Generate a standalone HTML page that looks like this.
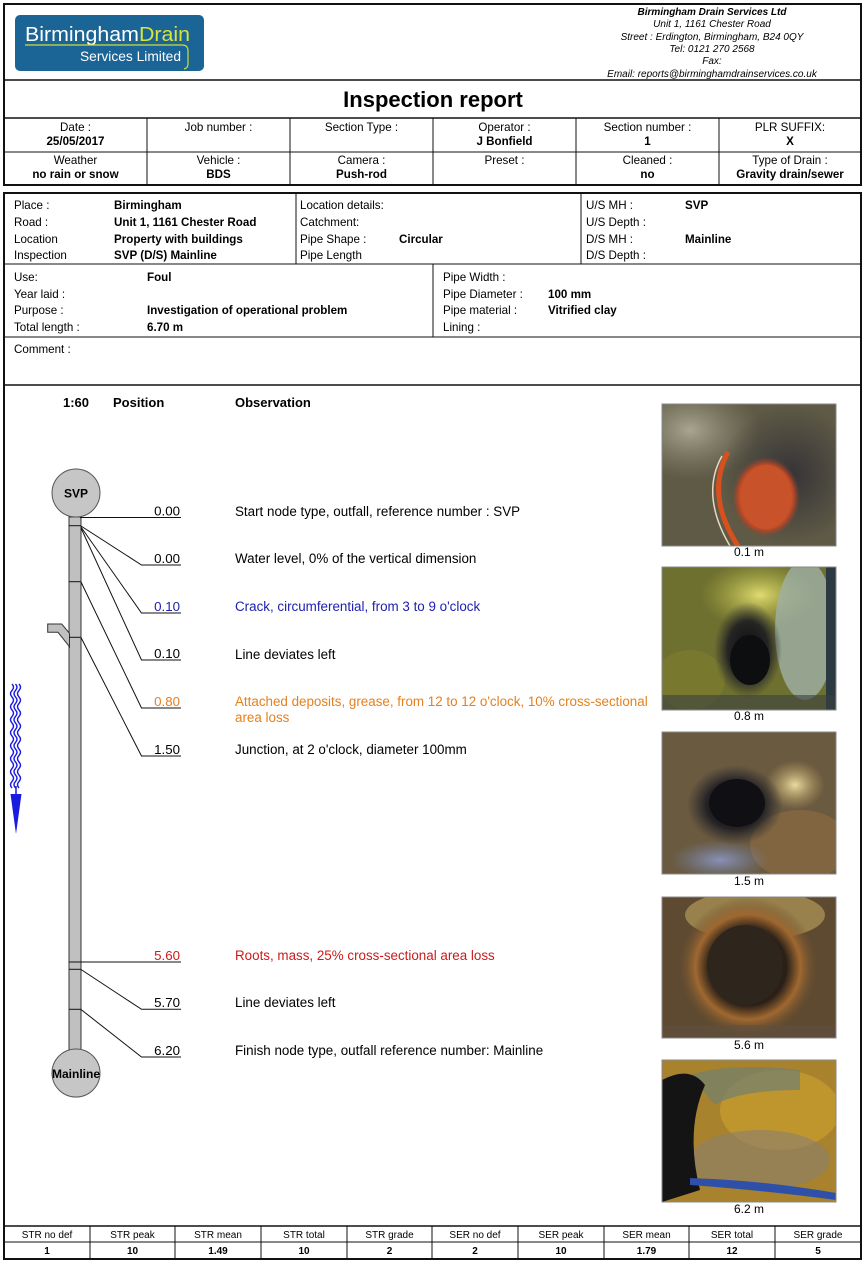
<!DOCTYPE html>
<html>
<head>
<meta charset="utf-8">
<style>
html,body{margin:0;padding:0;background:#fff;}
svg{display:block;}
text{font-family:"Liberation Sans",Arial,sans-serif;}
</style>
</head>
<body>
<svg width="865" height="1263" viewBox="0 0 865 1263" xmlns="http://www.w3.org/2000/svg">
<defs>
  <clipPath id="c1"><rect x="662" y="404" width="174" height="142"/></clipPath>
  <clipPath id="c2"><rect x="662" y="567" width="174" height="143"/></clipPath>
  <clipPath id="c3"><rect x="662" y="732" width="174" height="142"/></clipPath>
  <clipPath id="c4"><rect x="662" y="897" width="174" height="141"/></clipPath>
  <clipPath id="c5"><rect x="662" y="1060" width="174" height="142"/></clipPath>
  <radialGradient id="dark" cx="0.5" cy="0.5" r="0.5">
    <stop offset="0" stop-color="#0c0c10"/><stop offset="0.6" stop-color="#1c1c22" stop-opacity="0.9"/><stop offset="1" stop-color="#2a2a30" stop-opacity="0"/>
  </radialGradient>
  <radialGradient id="orange" cx="0.5" cy="0.5" r="0.5">
    <stop offset="0" stop-color="#d85a2a"/><stop offset="0.8" stop-color="#c04a26"/><stop offset="1" stop-color="#a0402a" stop-opacity="0"/>
  </radialGradient>
  <radialGradient id="yel" cx="0.5" cy="0.5" r="0.5">
    <stop offset="0" stop-color="#e0dc70"/><stop offset="1" stop-color="#b0b040" stop-opacity="0"/>
  </radialGradient>
  <radialGradient id="yelw" cx="0.5" cy="0.5" r="0.5">
    <stop offset="0" stop-color="#e8dca0"/><stop offset="1" stop-color="#c0a060" stop-opacity="0"/>
  </radialGradient>
  <radialGradient id="blu" cx="0.5" cy="0.5" r="0.5">
    <stop offset="0" stop-color="#8a90b8"/><stop offset="1" stop-color="#7080a0" stop-opacity="0"/>
  </radialGradient>
  <radialGradient id="light" cx="0.5" cy="0.5" r="0.5">
    <stop offset="0" stop-color="#a8a690"/><stop offset="1" stop-color="#8a8570" stop-opacity="0"/>
  </radialGradient>
  <radialGradient id="shade" cx="0.5" cy="0.5" r="0.5">
    <stop offset="0" stop-color="#2e2c34" stop-opacity="0.85"/><stop offset="1" stop-color="#2e2c34" stop-opacity="0"/>
  </radialGradient>
  <radialGradient id="rust" cx="0.5" cy="0.5" r="0.5">
    <stop offset="0.55" stop-color="#2a2018"/><stop offset="0.75" stop-color="#a06830"/><stop offset="1" stop-color="#6a5030" stop-opacity="0"/>
  </radialGradient>
</defs>

<!-- BOX 1 -->
<rect x="4" y="4" width="857" height="181" fill="none" stroke="#111" stroke-width="2"/>
<line x1="4" y1="80" x2="861" y2="80" stroke="#111" stroke-width="1.5"/>
<line x1="4" y1="118" x2="861" y2="118" stroke="#111" stroke-width="1.5"/>
<line x1="4" y1="152" x2="861" y2="152" stroke="#111" stroke-width="1"/>
<g stroke="#111" stroke-width="1">
  <line x1="147" y1="118" x2="147" y2="185"/>
  <line x1="290" y1="118" x2="290" y2="185"/>
  <line x1="433" y1="118" x2="433" y2="185"/>
  <line x1="576" y1="118" x2="576" y2="185"/>
  <line x1="719" y1="118" x2="719" y2="185"/>
</g>

<!-- Logo -->
<rect x="15" y="15" width="189" height="56" rx="5" ry="5" fill="#1b6496"/>
<text x="25" y="41" font-size="20" fill="#fff" textLength="165" lengthAdjust="spacingAndGlyphs">Birmingham<tspan fill="#d9e33a">Drain</tspan></text>
<path d="M25,45 L182,45 Q188,45 188,51 L188,64 Q188,68 184,69" fill="none" stroke="#cfdc38" stroke-width="1.2"/>
<text x="80" y="61" font-size="13.5" fill="#fff" textLength="101" lengthAdjust="spacingAndGlyphs">Services Limited</text>

<!-- Company info -->
<g font-size="10" font-style="italic" text-anchor="middle" fill="#000">
  <text x="712" y="15" font-weight="bold">Birmingham Drain Services Ltd</text>
  <text x="712" y="27">Unit 1, 1161 Chester Road</text>
  <text x="712" y="40">Street : Erdington, Birmingham, B24 0QY</text>
  <text x="712" y="52">Tel: 0121 270 2568</text>
  <text x="712" y="64">Fax:</text>
  <text x="712" y="77">Email: reports@birminghamdrainservices.co.uk</text>
</g>

<text x="433" y="107" font-size="22" font-weight="bold" text-anchor="middle">Inspection report</text>

<g font-size="11.6" text-anchor="middle">
  <text x="75.5" y="131">Date :</text>
  <text x="75.5" y="145" font-weight="bold">25/05/2017</text>
  <text x="218.5" y="131">Job number :</text>
  <text x="361.5" y="131">Section Type :</text>
  <text x="504.5" y="131">Operator :</text>
  <text x="504.5" y="145" font-weight="bold">J Bonfield</text>
  <text x="647.5" y="131">Section number :</text>
  <text x="647.5" y="145" font-weight="bold">1</text>
  <text x="790" y="131">PLR SUFFIX:</text>
  <text x="790" y="145" font-weight="bold">X</text>

  <text x="75.5" y="164">Weather</text>
  <text x="75.5" y="178" font-weight="bold">no rain or snow</text>
  <text x="218.5" y="164">Vehicle :</text>
  <text x="218.5" y="178" font-weight="bold">BDS</text>
  <text x="361.5" y="164">Camera :</text>
  <text x="361.5" y="178" font-weight="bold">Push-rod</text>
  <text x="504.5" y="164">Preset :</text>
  <text x="647.5" y="164">Cleaned :</text>
  <text x="647.5" y="178" font-weight="bold">no</text>
  <text x="790" y="164">Type of Drain :</text>
  <text x="790" y="178" font-weight="bold">Gravity drain/sewer</text>
</g>

<!-- BOX 2 -->
<rect x="4" y="193" width="857" height="1066" fill="none" stroke="#111" stroke-width="2"/>
<g stroke="#111" stroke-width="1">
  <line x1="296" y1="193" x2="296" y2="264"/>
  <line x1="581" y1="193" x2="581" y2="264"/>
  <line x1="4" y1="264" x2="861" y2="264"/>
  <line x1="433" y1="264" x2="433" y2="337"/>
  <line x1="4" y1="337" x2="861" y2="337"/>
  <line x1="4" y1="385" x2="861" y2="385" stroke-width="1.5"/>
  <line x1="4" y1="1226" x2="861" y2="1226" stroke-width="1.5"/>
  <line x1="4" y1="1242" x2="861" y2="1242"/>
  <line x1="90" y1="1226" x2="90" y2="1259"/>
  <line x1="175" y1="1226" x2="175" y2="1259"/>
  <line x1="261" y1="1226" x2="261" y2="1259"/>
  <line x1="347" y1="1226" x2="347" y2="1259"/>
  <line x1="432" y1="1226" x2="432" y2="1259"/>
  <line x1="518" y1="1226" x2="518" y2="1259"/>
  <line x1="604" y1="1226" x2="604" y2="1259"/>
  <line x1="689" y1="1226" x2="689" y2="1259"/>
  <line x1="775" y1="1226" x2="775" y2="1259"/>
</g>

<g font-size="11.6">
  <text x="14" y="209">Place :</text>
  <text x="14" y="226">Road :</text>
  <text x="14" y="243">Location</text>
  <text x="14" y="259">Inspection</text>
  <text x="114" y="209" font-weight="bold">Birmingham</text>
  <text x="114" y="226" font-weight="bold">Unit 1, 1161 Chester Road</text>
  <text x="114" y="243" font-weight="bold">Property with buildings</text>
  <text x="114" y="259" font-weight="bold">SVP (D/S) Mainline</text>
  <text x="300" y="209">Location details:</text>
  <text x="300" y="226">Catchment:</text>
  <text x="300" y="243">Pipe Shape :</text>
  <text x="399" y="243" font-weight="bold">Circular</text>
  <text x="300" y="259">Pipe Length</text>
  <text x="586" y="209">U/S MH :</text>
  <text x="685" y="209" font-weight="bold">SVP</text>
  <text x="586" y="226">U/S Depth :</text>
  <text x="586" y="243">D/S MH :</text>
  <text x="685" y="243" font-weight="bold">Mainline</text>
  <text x="586" y="259">D/S Depth :</text>

  <text x="14" y="281">Use:</text>
  <text x="147" y="281" font-weight="bold">Foul</text>
  <text x="14" y="298">Year laid :</text>
  <text x="14" y="314">Purpose :</text>
  <text x="147" y="314" font-weight="bold">Investigation of operational problem</text>
  <text x="14" y="331">Total length :</text>
  <text x="147" y="331" font-weight="bold">6.70 m</text>
  <text x="443" y="281">Pipe Width :</text>
  <text x="443" y="298">Pipe Diameter :</text>
  <text x="548" y="298" font-weight="bold">100 mm</text>
  <text x="443" y="314">Pipe material :</text>
  <text x="548" y="314" font-weight="bold">Vitrified clay</text>
  <text x="443" y="331">Lining :</text>

  <text x="14" y="353">Comment :</text>
</g>

<!-- Observation header -->
<g font-size="13" font-weight="bold">
  <text x="63" y="407">1:60</text>
  <text x="113" y="407">Position</text>
  <text x="235" y="407">Observation</text>
</g>

<!-- Pipe diagram -->
<rect x="69" y="517" width="12" height="533" fill="#c0c0c0" stroke="#333" stroke-width="1"/>
<polygon points="47.7,624 61.7,624 69.5,633.3 69.5,646.7 58,632.3 47.7,632.3" fill="#c0c0c0" stroke="#333" stroke-width="1"/>
<circle cx="76" cy="493" r="24" fill="#c6c6c6" stroke="#555" stroke-width="1"/>
<text x="76" y="497.5" font-size="12" font-weight="bold" text-anchor="middle">SVP</text>
<circle cx="76" cy="1073" r="24" fill="#c6c6c6" stroke="#555" stroke-width="1"/>
<text x="76" y="1078" font-size="12" font-weight="bold" text-anchor="middle">Mainline</text>

<g stroke="#111" stroke-width="1" fill="none">
  <line x1="69" y1="525.7" x2="81" y2="525.7"/>
  <line x1="69" y1="581.7" x2="81" y2="581.7"/>
  <line x1="69" y1="637.3" x2="81" y2="637.3"/>
  <line x1="69" y1="969.3" x2="81" y2="969.3"/>
  <line x1="69" y1="1009.3" x2="81" y2="1009.3"/>
  <polyline points="80,517.5 181,517.5"/>
  <polyline points="81,526 141.5,565 181,565"/>
  <polyline points="81,527 141.5,613 181,613"/>
  <polyline points="81,528 141.5,660 181,660"/>
  <polyline points="81,582 141.5,708 181,708"/>
  <polyline points="81,637.5 141.5,756 181,756"/>
  <polyline points="69,962 181,962"/>
  <polyline points="81,969.5 141.5,1009.3 181,1009.3"/>
  <polyline points="81,1009.5 141.5,1057 181,1057"/>
</g>

<!-- Flow arrow -->
<g stroke="#1a1ae0" stroke-width="1.4" fill="none">
  <path d="M12,684 q3,3.25 0,6.5 q-3,3.25 0,6.5 q3,3.25 0,6.5 q-3,3.25 0,6.5 q3,3.25 0,6.5 q-3,3.25 0,6.5 q3,3.25 0,6.5 q-3,3.25 0,6.5 q3,3.25 0,6.5 q-3,3.25 0,6.5 q3,3.25 0,6.5 q-3,3.25 0,6.5 q3,3.25 0,6.5 q-3,3.25 0,6.5 q3,3.25 0,6.5 q-3,3.25 0,6.5"/>
  <path d="M15.5,684 q3,3.25 0,6.5 q-3,3.25 0,6.5 q3,3.25 0,6.5 q-3,3.25 0,6.5 q3,3.25 0,6.5 q-3,3.25 0,6.5 q3,3.25 0,6.5 q-3,3.25 0,6.5 q3,3.25 0,6.5 q-3,3.25 0,6.5 q3,3.25 0,6.5 q-3,3.25 0,6.5 q3,3.25 0,6.5 q-3,3.25 0,6.5 q3,3.25 0,6.5 q-3,3.25 0,6.5"/>
  <path d="M19,684 q3,3.25 0,6.5 q-3,3.25 0,6.5 q3,3.25 0,6.5 q-3,3.25 0,6.5 q3,3.25 0,6.5 q-3,3.25 0,6.5 q3,3.25 0,6.5 q-3,3.25 0,6.5 q3,3.25 0,6.5 q-3,3.25 0,6.5 q3,3.25 0,6.5 q-3,3.25 0,6.5 q3,3.25 0,6.5 q-3,3.25 0,6.5 q3,3.25 0,6.5 q-3,3.25 0,6.5"/>
  <line x1="16" y1="786" x2="16" y2="796" stroke-width="1.5"/>
</g>
<polygon points="10.5,794 21.5,794 16,834" fill="#1a1ae0"/>

<!-- Position labels -->
<g font-size="13.3" text-anchor="end">
  <text x="180" y="515.5">0.00</text>
  <text x="180" y="563">0.00</text>
  <text x="180" y="611" fill="#2020b0">0.10</text>
  <text x="180" y="658">0.10</text>
  <text x="180" y="706" fill="#e4801e">0.80</text>
  <text x="180" y="754">1.50</text>
  <text x="180" y="960" fill="#cc1a1a">5.60</text>
  <text x="180" y="1007">5.70</text>
  <text x="180" y="1055">6.20</text>
</g>

<!-- Observations -->
<g font-size="13.4">
  <text x="235" y="516">Start node type, outfall, reference number : SVP</text>
  <text x="235" y="563">Water level, 0% of the vertical dimension</text>
  <text x="235" y="611" fill="#2020b0">Crack, circumferential, from 3 to 9 o'clock</text>
  <text x="235" y="659">Line deviates left</text>
  <text x="235" y="706" fill="#e4801e">Attached deposits, grease, from 12 to 12 o'clock, 10% cross-sectional</text>
  <text x="235" y="722" fill="#e4801e">area loss</text>
  <text x="235" y="754">Junction, at 2 o'clock, diameter 100mm</text>
  <text x="235" y="960" fill="#cc1a1a">Roots, mass, 25% cross-sectional area loss</text>
  <text x="235" y="1007">Line deviates left</text>
  <text x="235" y="1055">Finish node type, outfall reference number: Mainline</text>
</g>

<!-- Photo 1 -->
<g clip-path="url(#c1)">
  <rect x="662" y="404" width="174" height="142" fill="#5e5a46"/>
  <ellipse cx="690" cy="430" rx="70" ry="50" fill="url(#light)"/>
  <ellipse cx="790" cy="475" rx="70" ry="70" fill="url(#shade)"/>
  <path d="M728,452 Q705,495 738,546" fill="none" stroke="#d8501e" stroke-width="5"/>
  <path d="M722,456 Q700,495 730,546" fill="none" stroke="#e8d8c0" stroke-width="1.5"/>
  <ellipse cx="766" cy="497" rx="34" ry="40" fill="url(#orange)"/>
  <ellipse cx="766" cy="497" rx="26" ry="32" fill="#c8522a"/>
</g>
<rect x="662" y="404" width="174" height="142" fill="none" stroke="#888" stroke-width="1"/>

<!-- Photo 2 -->
<g clip-path="url(#c2)">
  <rect x="662" y="567" width="174" height="143" fill="#6e7030"/>
  <ellipse cx="760" cy="595" rx="60" ry="35" fill="url(#yel)"/>
  <ellipse cx="805" cy="630" rx="30" ry="70" fill="#9fb0a8" opacity="0.8"/>
  <rect x="826" y="567" width="10" height="143" fill="#2a3a40"/>
  <ellipse cx="690" cy="680" rx="35" ry="30" fill="#7a7a30" opacity="0.8"/>
  <ellipse cx="748" cy="650" rx="34" ry="48" fill="url(#dark)"/>
  <ellipse cx="750" cy="660" rx="20" ry="25" fill="#0c0e10"/>
  <rect x="662" y="695" width="174" height="15" fill="#3a4040" opacity="0.6"/>
</g>
<rect x="662" y="567" width="174" height="143" fill="none" stroke="#888" stroke-width="1"/>

<!-- Photo 3 -->
<g clip-path="url(#c3)">
  <rect x="662" y="732" width="174" height="142" fill="#6a5a40"/>
  <ellipse cx="800" cy="845" rx="50" ry="35" fill="#8a6a40" opacity="0.7"/>
  <ellipse cx="720" cy="860" rx="50" ry="20" fill="url(#blu)"/>
  <ellipse cx="795" cy="785" rx="30" ry="25" fill="url(#yelw)"/>
  <ellipse cx="735" cy="805" rx="48" ry="40" fill="url(#dark)"/>
  <ellipse cx="737" cy="803" rx="28" ry="24" fill="#101014"/>
</g>
<rect x="662" y="732" width="174" height="142" fill="none" stroke="#888" stroke-width="1"/>

<!-- Photo 4 -->
<g clip-path="url(#c4)">
  <rect x="662" y="897" width="174" height="141" fill="#5e4a30"/>
  <ellipse cx="755" cy="915" rx="70" ry="25" fill="#b09858" opacity="0.7"/>
  <ellipse cx="748" cy="967" rx="70" ry="70" fill="url(#rust)"/>
  <ellipse cx="745" cy="965" rx="38" ry="40" fill="#2e261c"/>
  <rect x="662" y="1025" width="174" height="13" fill="#605040" opacity="0.6"/>
</g>
<rect x="662" y="897" width="174" height="141" fill="none" stroke="#888" stroke-width="1"/>

<!-- Photo 5 -->
<g clip-path="url(#c5)">
  <rect x="662" y="1060" width="174" height="142" fill="#a8822c"/>
  <ellipse cx="780" cy="1110" rx="60" ry="40" fill="#c49a30" opacity="0.8"/>
  <ellipse cx="760" cy="1160" rx="70" ry="30" fill="#8a8070" opacity="0.6"/>
  <path d="M690,1075 Q730,1062 800,1070 L800,1090 Q740,1090 715,1105 Z" fill="#708070" opacity="0.7"/>
  <path d="M662,1080 Q690,1065 705,1085 Q685,1130 700,1190 L662,1202 Z" fill="#141414"/>
  <path d="M690,1185 Q760,1190 836,1200 L836,1193 Q760,1180 690,1178 Z" fill="#2f50a8"/>
</g>
<rect x="662" y="1060" width="174" height="142" fill="none" stroke="#888" stroke-width="1"/>

<!-- Captions -->
<g font-size="12" text-anchor="middle">
  <text x="749" y="556">0.1 m</text>
  <text x="749" y="720">0.8 m</text>
  <text x="749" y="885">1.5 m</text>
  <text x="749" y="1049">5.6 m</text>
  <text x="749" y="1213">6.2 m</text>
</g>

<!-- Bottom table -->
<g font-size="10" text-anchor="middle">
  <text x="47" y="1238">STR no def</text>
  <text x="132.5" y="1238">STR peak</text>
  <text x="218" y="1238">STR mean</text>
  <text x="304" y="1238">STR total</text>
  <text x="389.5" y="1238">STR grade</text>
  <text x="475" y="1238">SER no def</text>
  <text x="561" y="1238">SER peak</text>
  <text x="646.5" y="1238">SER mean</text>
  <text x="732" y="1238">SER total</text>
  <text x="818" y="1238">SER grade</text>
</g>
<g font-size="10" font-weight="bold" text-anchor="middle">
  <text x="47" y="1254">1</text>
  <text x="132.5" y="1254">10</text>
  <text x="218" y="1254">1.49</text>
  <text x="304" y="1254">10</text>
  <text x="389.5" y="1254">2</text>
  <text x="475" y="1254">2</text>
  <text x="561" y="1254">10</text>
  <text x="646.5" y="1254">1.79</text>
  <text x="732" y="1254">12</text>
  <text x="818" y="1254">5</text>
</g>
</svg>
</body>
</html>
